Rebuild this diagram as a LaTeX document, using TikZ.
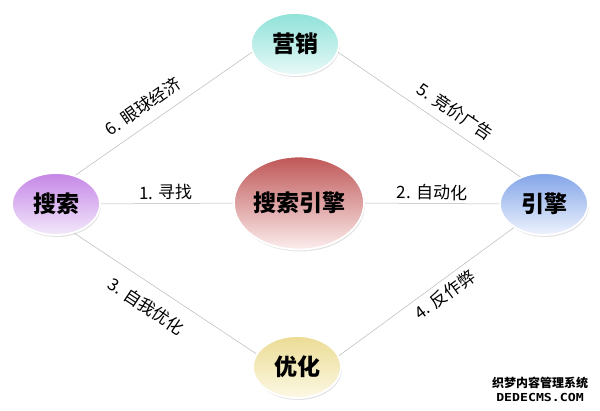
\documentclass[tikz,border=0pt]{standalone}
\usepackage{fontspec}
\usepackage{graphicx}
\newfontfamily\cjk{Noto Sans CJK SC}
\newfontfamily\wmmono{DejaVu Sans Mono}
\usepackage{tikz}
\usetikzlibrary{
  positioning,
  shapes.geometric,
  shadows,
}
\definecolor{mktTop}{HTML}{8FE2D9}
\definecolor{mktBot}{HTML}{E8F9F7}
\definecolor{srchTop}{HTML}{C586E6}
\definecolor{srchBot}{HTML}{F3E8FB}
\definecolor{seTop}{HTML}{BF5656}
\definecolor{seBot}{HTML}{FCEDED}
\definecolor{engTop}{HTML}{82A4E8}
\definecolor{engBot}{HTML}{EEF3FD}
\definecolor{optTop}{HTML}{EBDC94}
\definecolor{optBot}{HTML}{FCF8E4}

\begin{document}
\begin{tikzpicture}[
  x=1pt, y=1pt,
  bubble/.style={ellipse, draw=white, line width=1.8pt, inner sep=0pt,
    minimum width=88pt, minimum height=62pt,
    font=\cjk\bfseries\fontsize{23}{23}\selectfont,
    drop shadow={opacity=0.22, shadow xshift=1pt, shadow yshift=-2pt}},
  link/.style={draw=gray!55, line width=0.5pt},
  tag/.style={font=\cjk\fontsize{17}{17}\selectfont, inner sep=1pt, sloped},
]
  \useasboundingbox (0,0) rectangle (600,410);

  % Bubbles
  \node[bubble, top color=mktTop, bottom color=mktBot]   (mkt)  at (295,366) {营销};
  \node[bubble, top color=srchTop, bottom color=srchBot] (srch) at (56,206)  {搜索};
  \node[bubble, top color=engTop, bottom color=engBot]   (eng)  at (544,206) {引擎};
  \node[bubble, top color=optTop, bottom color=optBot]   (opt)  at (297,43)  {优化};
  \node[bubble, top color=seTop, bottom color=seBot,
        minimum width=130pt, minimum height=93pt]        (se)   at (299,207) {搜索引擎};

  % Links with their labels
  \draw[link] (srch.east) -- (se.west)
    node[tag, pos=0.49, above=2pt] (l1) {1. 寻找};
  \draw[link] (se.east) -- (eng.west)
    node[tag, pos=0.5, above=2pt] (l2) {2. 自动化};
  \draw[link] (srch.302) -- (opt.162)
    node[tag, pos=0.46, below=12pt] (l3) {3. 自我优化};
  \draw[link] (opt.15) -- (eng.218)
    node[tag, pos=0.56, below=4pt] (l4) {4. 反作弊};
  \draw[link] (mkt.349) -- (eng.131)
    node[tag, pos=0.59, above=8pt] (l5) {5. 竞价广告};
  \draw[link] (srch.56) -- (mkt.191)
    node[tag, pos=0.44, above=9pt] (l6) {6. 眼球经济};

  % Watermark
  \node[font=\cjk\bfseries\fontsize{12}{12}\selectfont, inner sep=0pt] (wm) at (540,27) {织梦内容管理系统};
  \node[font=\wmmono\bfseries\fontsize{11}{11}\selectfont, inner sep=0pt, below=4pt of wm]
    (wmurl) {\scalebox{1.2}[1]{DEDECMS.COM}};
\end{tikzpicture}
\end{document}
